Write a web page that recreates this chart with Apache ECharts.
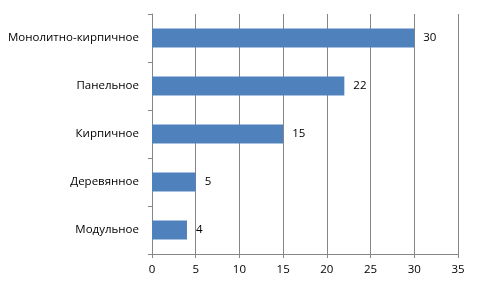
<!DOCTYPE html>
<html><head><meta charset="utf-8">
<script src="https://cdn.jsdelivr.net/npm/echarts@6/dist/echarts.min.js"></script>
<style>html,body{margin:0;padding:0;background:#fff}#c{width:480px;height:288px}</style>
</head><body><div id="c"></div>
<script>
var categories = ["Модульное", "Деревянное", "Кирпичное", "Панельное", "Монолитно-кирпичное"];
var values = [4, 5, 15, 22, 30];
var xTicks = { min: 0, max: 35, interval: 5 };

var chart = echarts.init(document.getElementById('c'), null, { renderer: 'canvas' });
var font = 'Open Sans, DejaVu Sans, sans-serif';
chart.setOption({
  animation: false,
  grid: { left: 152, right: 22, top: 14, bottom: 34 },
  xAxis: {
    type: 'value', min: xTicks.min, max: xTicks.max, interval: xTicks.interval,
    axisLine: { show: true, lineStyle: { color: '#868686' } },
    axisTick: { show: true, length: 4, lineStyle: { color: '#868686' } },
    splitLine: { show: true, lineStyle: { color: '#868686', width: 1 } },
    axisLabel: { color: '#000', fontSize: 11.5, fontFamily: font, margin: 10 }
  },
  yAxis: {
    type: 'category', data: categories,
    axisLine: { show: true, lineStyle: { color: '#868686' } },
    axisTick: { show: true, length: 4, inside: false, lineStyle: { color: '#868686' } },
    axisLabel: { color: '#000', fontSize: 11.5, fontFamily: font, margin: 13 }
  },
  series: [{
    type: 'bar', data: values, barWidth: '40%',
    itemStyle: { color: '#4F81BD' },
    label: { show: true, position: 'right', distance: 9, color: '#000', fontSize: 11.5, fontFamily: font }
  }]
});
</script></body></html>
